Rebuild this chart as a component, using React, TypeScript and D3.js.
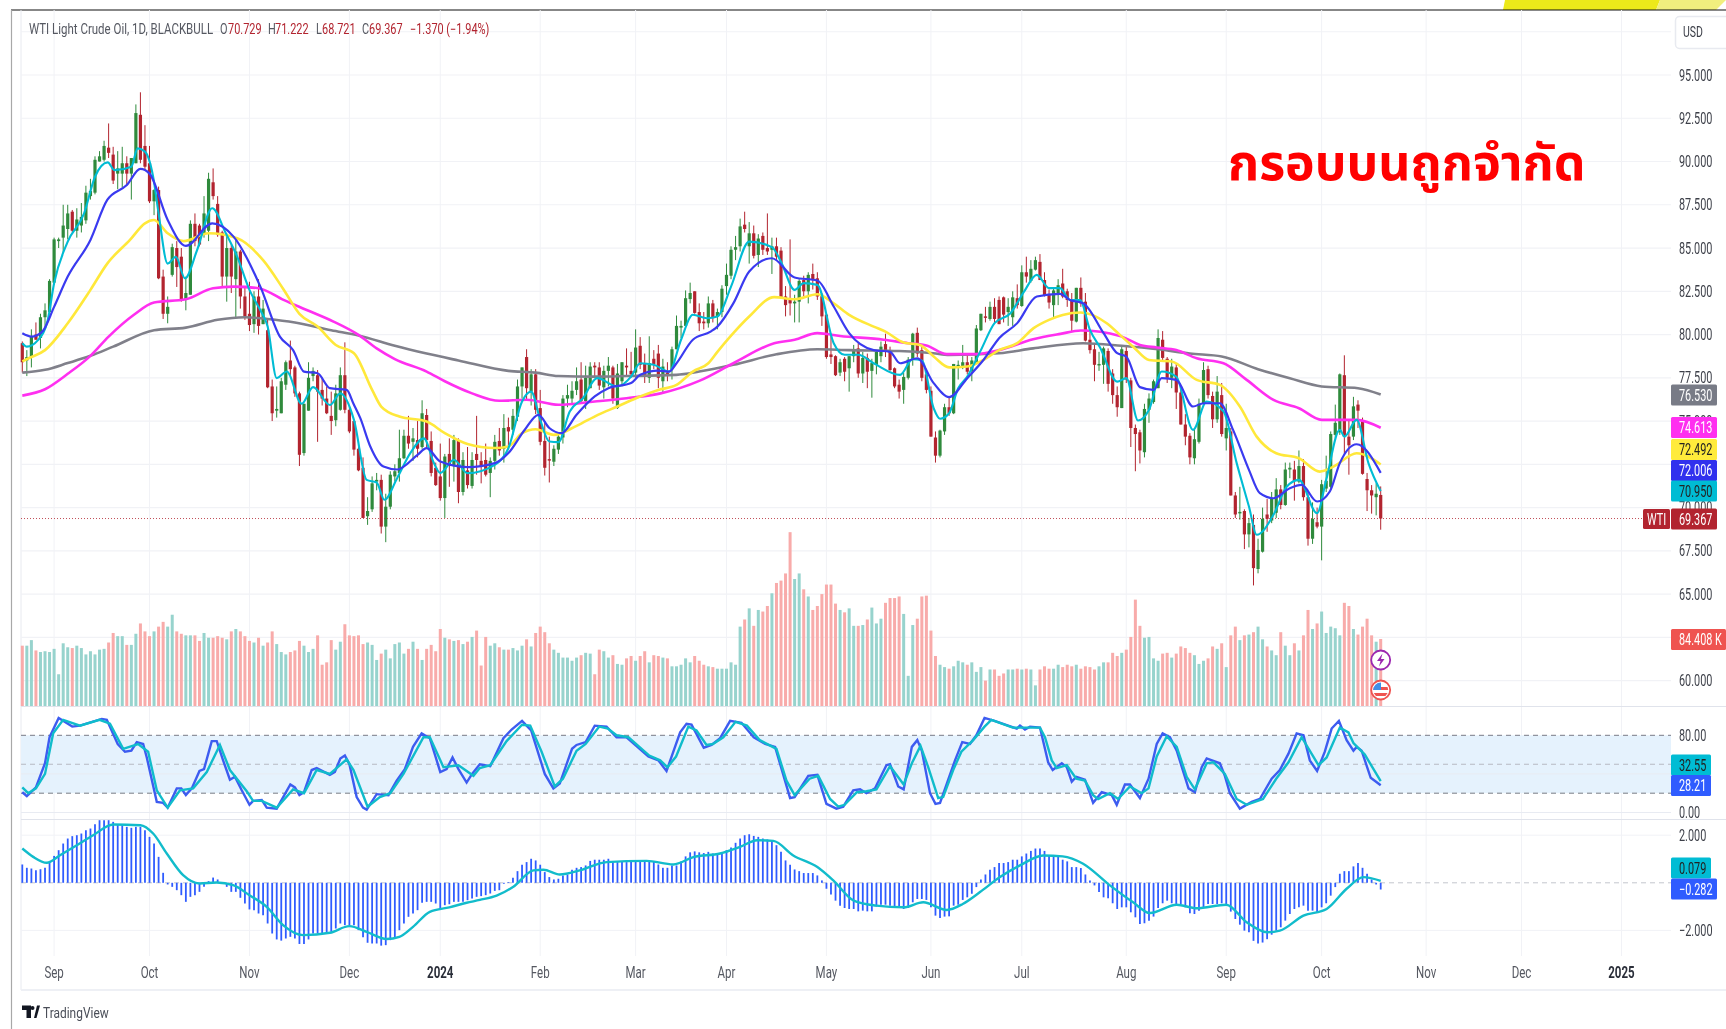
import React from "react";
import * as d3 from "d3";

const opens = [79.5,78.5,78.7,80,79.8,81,81.3,83,85.4,85.6,86.1,87.1,86,86.3,86.6,88,88.2,90,90.1,90.8,
90.4,89.3,89.3,89.9,89.3,89.9,92.7,90.9,89.9,87.7,88.35,83.35,81.2,83.45,85,84.5,82,82.3,86.4,86.3,
85.85,86,88.8,87.55,85.9,83.35,85,83.2,84.8,82.2,81.2,80.6,82.2,80.6,80.25,77,75.6,75.45,77.1,78.5,
78.1,76.6,73.15,75.6,77.6,77.65,76.8,76.3,75.3,75.05,75.65,77.65,75.65,75,73.4,72.3,69.5,69.9,71.5,71.6,
68.9,70.05,71.8,72,72.85,74.15,73.8,73.9,73.5,75.35,73.85,72.3,71.8,70.55,73.1,72.4,73.9,70.9,72.15,71.25,
73.1,72.7,72.75,72,72.7,73.85,73.4,74.65,74.5,75.25,77,78.7,76.7,77.7,75.75,73.85,72.8,72.65,73.35,74.05,
76.3,76.3,76.8,77.4,76.15,76.9,78.2,78.1,76.95,77.9,78.1,75.75,77.3,78.2,77.9,77.8,79.35,78.35,77.5,78.6,
78.9,77.3,77.8,78,79.15,80.4,80.5,82.05,82.5,81.3,80.75,80.65,81.8,81.05,81.3,82.8,83.4,84.9,85.1,86.35,
85.1,85.85,84.6,85.7,85,84.9,85.1,84.85,82.2,82,81.8,81.9,83.15,82.5,83.5,83.25,82.3,81.15,78.85,78.75,
77.8,78.6,78.05,78.75,79.2,77.75,78.65,77.9,78.25,78.75,79.45,79.1,78.05,77.1,76.8,77.5,78.55,80.1,79.1,77.7,
76.75,74.05,73,74.4,75.8,75.45,78.2,78.15,78.4,77.9,78.35,80.25,81.05,80.9,81.6,82,82.15,81.3,81,82.1,
81.65,83.6,83.1,83.75,84.2,83.15,82.3,81.7,82.3,82.95,82.5,82,80.75,82.7,81.9,79.7,79.15,78.25,78.25,79.05,
77.75,76.5,75.75,79.05,77.35,74.6,74.35,73.2,75.65,76.1,76.9,79.7,78.6,77.5,78.1,76.65,74.8,74.15,72.85,73.8,
76,78,76.45,75.1,76.5,74,74.4,70.7,69.7,69.8,68.45,69,66.45,67.45,69.6,69.25,69.7,71.05,70.15,72.2,
72.2,71.5,72.4,70.6,68.2,69.15,68.9,71.1,71.2,74.2,74.35,77.65,74.1,74.1,75.95,75,71.65,71,70.6,70.729];

const highs = [79.6,79.1,80.3,80.7,81.2,81.8,83.2,85.6,85.6,87.5,87.5,87.2,87.3,87.6,88.6,89,90.3,90.6,91.2,92.2,
90.85,90.6,90.85,90.3,90.2,93.3,94,92.1,90.9,88.4,88.55,83.75,82.2,85.25,85.4,85,83.35,86.6,87,86.4,
88,89.35,89.6,88,86,85.85,85.25,85.55,84.9,82.75,83.05,82.5,83.2,82,80.95,77.4,77,77.5,78.5,79.65,
78.2,76.7,76,78.4,78.1,77.95,77.5,77,76.7,77.1,78.1,79.55,75.9,75,73.7,72.9,70.6,71.8,72,71.9,
70.8,72.1,72.5,74.5,74.5,75.3,74.6,75,76.2,75.7,74.4,72.6,73.7,73.1,74,74.2,74,73.2,73.5,73.2,
75.3,73.2,73.7,72.9,74.2,74.6,75.4,75.2,75.7,77.4,78.1,79.15,78,78,76.8,75,74.1,73.6,74.3,76.5,
77.1,77.3,78.1,78.4,78.2,78.4,78.4,78.4,78.2,78.7,78.2,78.3,78.4,79.2,79,80.3,79.85,78.9,79.9,79.1,
79.4,78.6,78.4,79.3,81.1,80.8,82.55,83,82.5,81.8,81.3,82.2,82,81.5,82.85,84.1,85.1,85.7,86.7,87.1,
86.5,86.3,85.8,85.9,87,85.6,85.6,85.05,82.8,85.5,82.3,83.2,83.4,83.6,84.1,83.6,82.4,81.2,80,78.8,
78.6,78.7,78.75,79.4,79.5,79,78.9,78.6,79.1,79.6,80.05,79.3,78.1,77.4,77.8,78.7,80.1,80.4,79.3,77.8,
77,74.4,74.5,76,76.4,78.3,78.5,79.4,78.9,78.7,80.55,81.2,81.6,81.9,82.1,82.2,82.2,82.1,82.5,82.9,
84,84.5,84.3,84.5,84.65,83.6,82.6,82.7,83.2,83.8,82.65,82.4,82.7,83.3,82.4,80.2,79.4,79,79.3,79.2,
78,77,79.3,79.3,77.5,74.8,74.5,76,76.6,77.4,80.3,80.2,78.7,78.6,78.3,76.9,75.4,74.3,74.5,76.3,
78.4,78.2,76.7,77.6,77.2,76,74.6,70.9,71.2,69.9,69.4,69.6,68.2,70,70.5,70.9,71.7,71.3,72.6,72.6,
72.7,73.3,72.8,70.9,70.3,70,71.6,73,74.4,75.95,77.75,78.8,75.1,76.4,76.2,75.2,72,71.3,71.4,71.222];

const lows = [77.8,77.6,78.1,79.7,79.2,80.3,81.3,82.9,85,84.7,85.5,85.9,85.6,85.9,86.4,87.8,88.1,90,90,90.2,
88.7,88.4,88.5,88.6,87.8,89.9,89.9,89.5,87.6,86.9,83.2,80.9,80.65,83.35,82.75,81.9,81.4,82.3,85.1,85.1,
85.6,85.4,87.8,85.65,82.75,81.9,82.4,81,81.5,80.85,80.2,80.1,80,80.6,76.9,75,75.2,75.45,76.8,77.6,
76.4,72.4,73,75.6,77.3,73.8,75.9,75.4,74.2,74.7,75.6,75.45,74.3,73,72.1,69.4,69,69.75,71,68.5,
68,69.9,71.5,71.5,72.8,73.4,72.7,72.9,73.4,73.4,71.8,71.25,70.4,69.4,71.2,71.5,70.25,70.7,71.1,71.1,
71.9,71.4,71.8,70.6,72.2,73,72.6,73.4,74.2,75,76.3,76.2,75.9,75.4,73.6,71.85,71.45,72.4,73.1,73.7,
75.8,76,76.5,76,75.7,76.9,77.5,76.8,76.3,77,76,75.7,77,77.6,77.5,77.5,78,77.2,77.2,78,
76.9,76.6,77.3,77.4,79.15,79.8,80.5,81.8,81.2,80.2,80.3,80.4,80.7,80.3,81,82.3,83.2,84.3,84.8,85.9,
84.1,84.4,83.9,84.6,84.6,83.5,84.3,82.1,81.05,81.1,80.7,80.7,82.2,81.8,82.6,82,80.5,78.6,78.3,77.6,
77.6,77.3,76.7,78.4,77.5,77.2,76.9,76.35,77.7,78.4,78.7,77.9,76.9,76.3,76,77.4,78.2,78.7,77.3,76.6,
74.1,72.6,72.9,74.2,75.3,75.4,77.4,78,77.7,77.3,78.3,80.2,80.7,80.8,80.7,80.6,80.7,80.5,80.5,81.5,
81.6,83,83,83.7,83.2,82.2,81.5,80.9,81.7,82.1,81.6,80.2,80.7,81.6,79.6,78.9,77.3,77.9,77.15,76.7,
76,75.25,75.75,77.2,73.5,72.1,72.55,72.9,74.9,76,76.9,78.5,77.2,76.9,75.7,74.8,73.6,72.5,72.5,73.7,
75.9,76.3,74.6,74.9,74.1,73.3,70.7,69.4,69.3,67.6,67.7,65.5,66.2,67.4,68.6,69.1,69.4,69.9,70.1,71.7,
70.4,71.4,70.4,67.8,67.9,68.8,66.95,70.9,71.1,74,74.2,73.1,71.9,73.9,74.6,71.9,69.8,69.65,69.55,68.721];

const closes = [78.4,78.7,79.9,79.7,81,81.4,83.1,85.5,85.5,86.3,87,86,86.65,86.8,88.2,88.3,90.1,90.3,90.9,90.5,
88.9,89.6,89.9,89.3,90.2,92.8,90.1,89.7,87.7,88.35,83.25,81.2,81.6,85.05,83.9,82,82.4,86.4,85.4,85.2,
87,89,88,85.75,83.35,85,83.35,84.8,82.2,81.05,80.55,82.2,80.5,81.5,76.95,75.45,75.7,77.3,78.4,78,
76.6,73.05,76,77.5,77.9,76.7,76.3,75.45,75,76.6,77.65,75.65,74.4,73.35,72.15,69.4,69.8,71.4,71.6,68.9,
70.05,71.9,72.1,72.85,74.15,73.7,74,73.4,75.45,73.9,72,71.3,70.55,72.95,72.4,73.9,70.9,72.75,71.3,72.75,
72.75,72.4,71.9,72.7,73.8,73.3,74.6,74.4,75.3,77,78.1,76.9,77.7,75.65,73.8,72.3,72.75,73.4,74.1,76.3,
76.5,76.75,77.3,76.15,77.5,78.15,78.1,77.05,77.9,78.2,76.3,77.75,78.4,78.1,77.7,79.25,78.25,77.6,78.35,78.3,
77.5,78.15,77.7,79.15,80.5,80.5,82.1,82.4,81.25,80.65,80.65,81.8,80.95,81.3,82.65,83.45,84.9,85.05,86.25,86.1,
85.85,84.55,85.55,84.9,84.8,85.1,84.5,82.15,81.7,81.8,81.9,83.1,82.5,83.45,83.15,82.2,81.05,78.7,78.7,77.65,
78.4,77.85,78.75,79.1,77.75,78.65,77.85,78.35,79,79.3,79.1,77.95,77,76.7,77.55,78.55,80.05,78.9,77.5,76.8,
74.1,73,74.45,75.8,75.45,78.3,78.25,78.4,77.85,78.5,80.35,81.2,81,81.6,80.9,80.6,81.15,81.6,82.15,81.7,
83.6,83.35,83.8,84.3,83.15,82.25,81.85,82.55,82.85,82.2,82,80.8,82.7,81.8,79.65,79.1,78.25,78.3,79.2,77.15,
76.5,75.8,79.15,77.4,74.6,74.25,73.3,75.7,76.3,77.3,79.8,78.65,77.5,78.15,76.65,74.8,74.1,72.9,73.95,76,
77.95,76.5,75.1,76.7,74.25,74.6,70.7,69.6,69.75,68.45,69.1,66.5,67.55,69.35,69.35,70.55,71.05,70.15,72.2,72.3,
71.55,72.4,70.6,68.2,69.35,68.9,71.35,71.55,74.25,74.9,77.7,74.1,73.6,75.85,75.6,71.95,71,70.7,70.8,69.367];

const volumeK = [76,76,83,70,68,69,68,72,40,79,74,73,76,73,65,69,65,71,72,80,
92,88,88,77,77,91,104,94,88,94,100,106,100,115,94,91,89,89,89,82,
92,86,86,88,86,84,94,97,94,88,82,80,86,76,80,94,78,68,65,68,
70,82,76,68,72,89,52,55,83,71,81,103,89,88,89,78,80,77,58,66,
71,60,78,80,66,72,81,72,58,72,77,69,97,86,84,82,83,78,81,87,
95,51,87,76,79,74,71,71,73,70,76,84,75,92,100,93,79,71,67,61,
61,57,61,64,67,66,40,71,69,61,64,53,52,60,63,57,63,69,55,64,
63,61,60,50,50,52,60,55,63,57,52,50,49,47,47,47,55,52,100,109,
123,101,121,119,126,142,155,158,167,219,160,167,147,138,121,126,141,153,153,129,
121,118,123,101,101,102,109,124,104,110,130,136,136,138,116,38,102,110,138,139,
95,63,52,49,47,50,57,55,52,55,43,49,32,46,46,38,41,46,46,47,
46,47,46,26,46,50,47,47,52,49,52,50,52,47,50,49,46,50,55,55,
67,63,67,71,87,134,101,86,87,60,57,66,67,61,66,75,73,67,64,53,
57,60,75,72,79,49,89,100,83,89,90,93,100,84,75,70,64,93,76,64,
79,70,89,121,97,104,119,92,100,98,89,130,126,97,90,100,110,89,81,84.408];

const macdHist = [.77,.63,.6,.53,.57,.63,.88,1.13,1.37,1.65,1.86,1.96,2,2.07,2.21,2.28,2.46,2.63,2.63,2.63,
2.56,2.46,2.42,2.35,2.31,2.35,2.35,2.21,1.93,1.65,1.09,.42,-.07,-.17,-.31,-.52,-.8,-.59,-.52,-.38,
-.17,.07,.22,.14,-.03,-.17,-.38,-.38,-.63,-.87,-1.12,-1.15,-1.29,-1.36,-1.71,-2.13,-2.38,-2.43,-2.34,-2.27,
-2.34,-2.57,-2.57,-2.38,-2.13,-2.13,-2.13,-2.1,-2.06,-1.92,-1.71,-1.78,-1.78,-1.78,-1.99,-2.29,-2.52,-2.55,-2.55,-2.64,
-2.62,-2.41,-2.29,-1.99,-1.71,-1.43,-1.29,-1.15,-.84,-.8,-.8,-.87,-1.08,-.94,-.9,-.8,-.8,-.8,-.73,-.66,
-.59,-.56,-.52,-.45,-.34,-.31,-.04,.03,.21,.49,.76,.87,1.01,.94,.76,.45,.24,.14,.17,.31,
.35,.55,.63,.66,.73,.92,.97,.97,.97,1.01,.87,.87,.87,.87,.9,.94,.94,.94,.92,.9,
.77,.63,.63,.73,.73,.9,1.11,1.28,1.32,1.28,1.25,1.3,1.23,1.18,1.25,1.37,1.48,1.68,1.86,2,
2.04,1.97,1.93,1.86,1.82,1.76,1.58,1.3,.94,.76,.56,.49,.41,.41,.41,.31,.1,-.25,-.49,-.75,
-.96,-1.06,-1.1,-1.1,-1.2,-1.17,-1.2,-1.2,-1,-.92,-.92,-.96,-1.03,-1.06,-1.1,-1.06,-.82,-.68,-.68,-.72,
-1.03,-1.38,-1.48,-1.42,-1.41,-.96,-.92,-.72,-.61,-.46,-.18,.14,.35,.55,.66,.83,.83,.87,.97,.97,
1.11,1.23,1.34,1.44,1.44,1.34,1.15,1.11,1.11,.97,.9,.66,.66,.62,.35,.1,-.11,-.39,-.61,-.65,
-.86,-1.1,-1.03,-1.03,-1.24,-1.45,-1.73,-1.7,-1.59,-1.42,-1.06,-.86,-.75,-.86,-.89,-.89,-1.03,-1.28,-1.31,-1.17,
-1.03,-.89,-.89,-.89,-.86,-.92,-1.21,-1.52,-1.76,-2.01,-2.08,-2.44,-2.55,-2.51,-2.37,-2.18,-2.01,-1.87,-1.59,-1.31,
-1.1,-1.03,-.96,-1.17,-1.17,-1.24,-1.03,-.86,-.54,-.18,.38,.49,.49,.69,.83,.63,.38,.14,-.07,-.282];

const ma200 = [[0,77.8],[5,77.96],[10,78.35],[15,78.77],[20,79.3],[29,80.25],[36,80.4],[43,80.85],[49,81],[54,80.9],[60,80.7],[68,80.25],[74,79.95],[82,79.35],[89,78.9],[96,78.5],[107,77.9],[113,77.8],[118,77.6],[126,77.57],[133,77.6],[144,77.67],[149,77.86],[156.5,78.25],[166,78.86],[175,79.15],[182,79.1],[193,79.05],[200.5,78.92],[204,78.82],[215,78.92],[222.5,79.2],[233.5,79.5],[242,79.35],[250,79.15],[257,78.9],[264,78.73],[272,78],[279,77.47],[286,77],[294,76.9],[299,76.53]];
const ma100 = [[0,76.47],[5,76.84],[10,77.73],[15,78.77],[19,79.88],[24.5,81.13],[29,81.85],[36,82.04],[42,82.68],[46.5,82.77],[52,82.68],[57.5,82],[62.6,81.42],[68.5,80.75],[74,79.98],[78,79.2],[82,78.58],[89,77.86],[93,77.3],[99,76.6],[105,76.17],[111,76.23],[118,75.94],[126,76.13],[133,76.32],[140.5,76.6],[149,77.32],[156.5,78.34],[165.5,79.5],[170,79.7],[175,80.08],[180,79.92],[189.6,79.7],[195,79.5],[199,79.37],[203.5,78.87],[210,78.87],[215,79.1],[222.5,79.73],[228.5,80.04],[233,80.23],[241.6,79.92],[246,79.4],[249.7,79.25],[254,79.1],[258.5,78.63],[264.4,78.34],[269.5,77.38],[275.4,76.22],[281,75.74],[286,75.07],[293.7,75.07],[299,74.613]];
const ma50 = [[0,78.45],[1.4,78.63],[5,79.1],[10,80.65],[15,82.58],[18.7,84.1],[23.7,85.47],[27,86.43],[29,86.62],[32,85.85],[35.5,85.4],[41,85.85],[47.3,85.56],[53,84.3],[57.4,82.65],[61,81.2],[65,80.46],[69,79.4],[73,78.92],[77,76.8],[79,75.84],[83,75.26],[89,74.97],[93,74.3],[98,73.67],[104,73.44],[107,73.53],[110,74.3],[113,74.53],[117,74.2],[122,74.72],[126.7,75.36],[131,75.84],[136,76.42],[140,76.8],[144,77.09],[147.6,77.86],[151,78.34],[153,79],[156.5,80.08],[160,81.04],[165.5,82.16],[170,82.04],[175,82.33],[178.6,81.8],[182,81.14],[187.4,80.46],[190,80.17],[194,79.54],[197.6,79.4],[200.6,78.73],[204,78.1],[208,78.15],[211.6,78.54],[215,79.1],[219,79.5],[222.6,80.37],[226,80.85],[229,81.13],[233,81.27],[238.7,80.65],[241.6,79.98],[244.5,79.3],[248,78.53],[253,78.44],[258.5,77.38],[263.6,77.09],[268,75.84],[271.7,74.1],[276,73.14],[281,72.85],[285.6,72.08],[288.6,72.37],[293.7,73.14],[299,72.492]];
const ma20 = [[0,80.07],[2,79.88],[4.4,80.17],[7,81.6],[10,83.35],[15,85.47],[18.7,87.78],[23,88.64],[26,89.57],[28,89.3],[32,86.62],[36,85.12],[41.8,86.43],[46.5,85.66],[52.4,82.77],[56.7,79.88],[59.6,79.1],[62,77.86],[65,77.76],[67.7,76.9],[71.4,76.8],[72.9,76],[74.4,75.17],[76.6,73.53],[79.5,72.37],[82.5,72.2],[87,73.05],[89,73.43],[92,72.66],[98,72.34],[104,72.57],[107,73.15],[110.6,74.5],[113.6,75.36],[116,74.6],[118.7,74.3],[122,75.36],[126,76.42],[129,76.9],[134,77.2],[136,77.67],[140,77.92],[142.4,77.86],[144,78.34],[147.6,79.7],[151.5,80.17],[153,80.46],[156.5,81.8],[160,83.64],[165,84.41],[170,83.3],[175,83.12],[178.6,81.62],[182,80.08],[187.4,79.1],[191,79],[193.2,78.34],[197,78.63],[200.6,77.19],[204,76.38],[208,77.48],[211.6,78.54],[215,79.79],[219,80.66],[223.3,82.2],[228.4,82.35],[230.6,82],[233.5,81.81],[238,80.08],[241,78.92],[243,78.73],[246,76.96],[249,76.8],[250.8,77.48],[254,77.38],[257.7,75.84],[260,76.03],[263.6,76.03],[266.5,74.49],[270,72.18],[272.4,70.83],[275.4,70.54],[279,71.12],[281.6,71.31],[285,70.35],[287.8,70.93],[290,72.57],[293.7,73.66],[299,72.006]];
const ma9 = [[0,79.5],[1,79.3],[3.5,79.69],[5.6,80.84],[7,82.96],[10,85.37],[13.6,87],[16,89.12],[18.8,89.95],[20.3,89.5],[24,89.7],[25.4,90.76],[27,90.57],[28.8,89.12],[30,87],[32,84.1],[33.8,84.5],[35.8,83.25],[38.5,84.9],[41.8,87.3],[44.8,85.85],[47.3,84.5],[50,82.58],[52.4,81.4],[54,80.46],[56,77.48],[58.2,77.86],[61.5,76],[64,76.96],[67.7,75.93],[70,76.6],[73,75.07],[75.8,71.6],[78,71.45],[79.7,70.45],[82.5,71.7],[85.4,73.15],[88.4,74],[90.6,72.57],[92,72],[95,72.76],[98,71.99],[104,72.47],[107,73.43],[110,76.13],[112,76.7],[114,75.07],[116,73.82],[118,73.78],[120.5,75.55],[123.4,76.32],[126.5,77.48],[131,77],[134,77.57],[136,78.34],[139,78.25],[142.4,77.86],[145,79.7],[147.6,81.14],[150.7,80.94],[153,81.04],[156,82.77],[160,85.37],[165,85.05],[167,84.2],[170,82.58],[172,82.97],[175,82.87],[178.6,79.5],[181,78.83],[184,78.83],[187.4,78.34],[193.2,77.67],[196,78.58],[198,78.5],[200.6,75.74],[202,75.13],[204,75.45],[206,76.9],[208,77.57],[211,79.1],[214,80.66],[217.5,81.23],[220.5,82.48],[223.3,83.45],[226,82.68],[228.4,82.68],[230.6,82],[232.8,82],[235,80.27],[237.2,79.27],[241,77.28],[243,77.48],[245.6,75.03],[248,75.65],[250.8,77.86],[254,77.57],[257.7,74.49],[260.7,76.13],[264.4,75.55],[267.3,72.57],[270,70.06],[271.7,68.43],[275.4,69.58],[278.3,71.2],[281,71.6],[285,69.67],[287,71.6],[290,74.5],[291,74.1],[293.7,75.07],[296.3,72.57],[299,70.95]];

const stochK = [[0,21],[1,17],[3,26],[5,51],[6,78],[8,98],[11,89],[12.7,90],[17.5,97],[18.6,96],[21,71],[22.6,63],[24,64],[25.2,73],[26.6,71],[27.4,57],[29.6,11],[31,10],[32,5],[34,25],[35,25],[36,18],[37.3,25],[39,43],[40,45],[41.7,74],[42.8,74],[44.2,54],[45.7,34],[46.8,37],[48.3,23],[50,8],[50.8,12],[52.7,13],[53.8,5],[56,4],[59,29],[60,26],[61,18],[62,21],[63.7,44],[64.8,46],[67.7,39],[68.8,42],[70,56],[71,59],[72,50],[73.6,16],[75,5],[75.8,3],[78,19],[80.6,18],[82.4,33],[84.2,45],[86,68],[87.9,82],[89.7,77],[92,42],[93.4,45],[94.7,57],[96,45],[97.8,31],[99,40],[100.7,50],[103,48],[105.9,77],[107.7,86],[110,95],[112,85],[115,40],[116.9,25],[118.3,30],[121,66],[122,70],[124,73],[126,90],[128.6,89],[130.8,78],[133,78],[137.8,58],[140,54],[141.8,43],[144.8,83],[146.2,92],[147.3,91],[150,67],[151.7,70],[153.6,77],[155.8,95],[158.3,93],[161,78],[163.5,71],[165.7,68],[169,15],[170,16],[173,38],[175,39],[177,9],[179.2,4],[180.7,6],[182.9,23],[184.4,24],[185.8,20],[187.7,25],[190.2,49],[191,50],[192.8,27],[194,24],[195.8,68],[197,75],[198,64],[199.8,20],[201,9],[202,10],[203.5,30],[205.3,54],[206.9,73],[208.6,71],[210,80],[211.8,98],[214,95],[218.9,87],[219.6,90],[220.7,86],[221.8,89],[224,88],[225.8,52],[226.8,44],[228.8,51],[229.9,47],[231,32],[232,37],[233.9,34],[235.7,10],[237.6,21],[239.8,18],[240.9,8],[242.7,29],[243.8,29],[246,15],[247.9,35],[249.7,71],[251,82],[252.6,78],[254.1,64],[256.7,25],[258.1,21],[259.6,47],[260.7,56],[263.6,51],[264.7,38],[265.8,20],[268,4],[270.6,11],[272.4,14],[275,35],[276.8,44],[278.7,61],[280.5,82],[282,80],[283.4,54],[285,43],[286.7,63],[288.2,87],[289.8,95],[291.5,75],[293,64],[293.7,68],[294.8,64],[296.8,36],[299,28.21]];
const stochD = [[0,26],[1.3,20],[3,25],[5,40],[6.8,82],[9,96],[12.7,90],[17,96],[19.3,92],[22.2,66],[25.5,71],[27.7,63],[29.6,23],[32,5],[34.7,23],[37.6,25],[40.6,42],[43.5,70],[45.7,44],[49.4,22],[50.8,12],[52.7,12],[56,5],[59.6,24],[62,20],[64.8,44],[67.7,40],[71.4,55],[72.9,44],[76,6],[78.7,16],[81,20],[83.9,40],[88.3,78],[89.7,78],[92.7,47],[96,49],[99.3,38],[100.7,46],[103,49],[106.6,74],[110,91],[111.8,90],[114.3,63],[117.2,27],[119,35],[122,64],[124,71],[127,89],[128.9,87],[130.8,80],[133.4,78],[138,59],[140.4,54],[142,47],[143.9,58],[146.6,89],[148.4,85],[150.6,70],[152,71],[154.3,78],[157,94],[159.5,90],[162.3,75],[166,66],[168.2,33],[170,18],[173.3,35],[175.2,38],[177.8,14],[179.6,6],[181,8],[183.7,21],[185.8,22],[188,24],[191,48],[194,29],[195.8,51],[197.7,69],[199.4,47],[201.6,15],[202.7,16],[204.9,44],[206.7,63],[209.3,75],[211.8,89],[213.3,96],[218,88],[224,88],[225.1,78],[226.6,54],[227.7,46],[229.9,49],[232,35],[233.9,33],[235.7,18],[236.8,14],[239.4,20],[241.2,14],[243.8,27],[246.4,20],[247.9,25],[249.7,58],[251.9,79],[254.1,68],[256.3,37],[258.1,24],[260.7,51],[262.2,52],[264.7,40],[267.3,14],[269.5,8],[273.1,14],[276,35],[278.7,52],[281.6,78],[285.3,49],[287.1,57],[290,88],[291.9,83],[293,72],[295.5,60],[299,32.55]];
const macdSignal = [[0,1.44],[2.4,1.09],[5.4,.84],[8.3,1.16],[12,1.58],[15.6,2],[20,2.45],[26,2.42],[28.8,2.07],[31.8,1.23],[35.4,.32],[39,-.03],[42.8,.01],[46.4,-.1],[50,-.52],[53.8,-1.01],[57.4,-1.78],[61.8,-2.2],[67.7,-2.1],[72,-1.82],[75.8,-2.06],[80.2,-2.36],[83,-2.27],[86,-1.85],[89.7,-1.22],[94,-1.03],[97.8,-.84],[100.7,-.72],[104.4,-.54],[108,-.18],[112.5,.52],[114.7,.55],[118.3,.35],[122.7,.52],[128.6,.87],[137.4,.92],[143.3,.77],[147.7,1.08],[153.6,1.23],[158,1.51],[161.8,1.79],[165.3,1.76],[169.7,1.15],[175,.66],[178.5,.1],[183,-.75],[188,-.96],[194,-1.03],[198.3,-.82],[203.5,-1.14],[207,-.89],[210.8,-.39],[215.2,.24],[219.6,.73],[224.7,1.15],[229,1.11],[233.5,.8],[239.4,-.11],[244.5,-.82],[248.2,-1.27],[254.1,-.92],[258.5,-1.07],[265,-.92],[269.5,-1.66],[274,-2.08],[276.8,-2.01],[282,-1.38],[287.1,-1.1],[291.5,-.25],[295.2,.24],[299,.079]];

const timeTicks = [[7,"Sep"],[28,"Oct"],[50,"Nov"],[72,"Dec"],[92,"2024"],[114,"Feb"],[135,"Mar"],[155,"Apr"],[177,"May"],[200,"Jun"],[220,"Jul"],[243,"Aug"],[265,"Sep"],[286,"Oct"],[309,"Nov"],[330,"Dec"],[352,"2025"]] as [number,string][];
const priceGrid = [60,62.5,65,67.5,70,72.5,75,77.5,80,82.5,85,87.5,90,92.5,95,97.5];
const priceTickLabels = [60,65,67.5,70,75,77.5,80,82.5,85,87.5,90,92.5,95];
const legendTitle = "WTI Light Crude Oil, 1D, BLACKBULL";
const annotation = "กรอบบนถูกจำกัด";

const W = 1726, H = 1029, L = 21, R = 1671;
const FONT = "Roboto,'Noto Sans',sans-serif";
const UP = "#2f8a3c", DOWN = "#b2242f";
const AXIS = "#3c3f48", MUTED = "#555861";

const x = d3.scaleLinear().domain([0, 299]).range([22.3, 1380.7]);
const yP = d3.scaleLinear().domain([60, 95]).range([680.6, 75]);
const yV = d3.scaleLinear().domain([0, 84.408]).range([706, 639]);
const yS = d3.scaleLinear().domain([0, 100]).range([812.5, 716]);
const yM = d3.scaleLinear().domain([-2, 2]).range([930.4, 835.2]);

const lineOn = (ys: any, curve: any) => d3.line<number[]>().x(d => x(d[0])).y(d => ys(d[1])).curve(curve);

// The reference's labels are set in a condensed face; Roboto is squeezed horizontally to match.
function T({ x: tx, y, size = 16, sx = 0.68, fill = AXIS, anchor = "start", weight = 400, children }: any) {
  return (
    <text transform={`translate(${tx} ${y}) scale(${sx} 1)`} fontSize={size} fill={fill}
      textAnchor={anchor} fontWeight={weight} fontFamily={FONT}>{children}</text>
  );
}

function Tag({ y, h = 21, x0 = 1671, w = 46, fill, color = "#fff", text }: any) {
  return (
    <g>
      <rect x={x0} y={y - h / 2} width={w} height={h} rx={1.5} fill={fill} />
      <T x={x0 + 8} y={y + 5.6} fill={color}>{text}</T>
    </g>
  );
}

export default function App() {
  const priceLine = lineOn(yP, d3.curveMonotoneX);
  const n = closes.length;
  return (
    <svg width={W} height={H} viewBox={`0 0 ${W} ${H}`} style={{ position: "absolute", left: 0, top: 0, display: "block", background: "#fff", filter: "blur(0.45px)" }}>
      <path d="M1505 0L1503 10H1656L1660 0Z" fill="#ece91a" />
      <path d="M1656 10L1660 0H1726L1716 10Z" fill="#f1ef7e" />
      <line x1={11} x2={W} y1={10} y2={10} stroke="#111" strokeWidth={1.2} />
      <line x1={11.5} x2={11.5} y1={10} y2={H} stroke="#a8a8a8" strokeWidth={1.2} />
      <line x1={21} x2={21} y1={10} y2={990} stroke="#e8eaf0" strokeWidth={1} />
      <line x1={21} x2={W} y1={990} y2={990} stroke="#eef0f5" strokeWidth={2} />

      {timeTicks.map(([i]) => <line key={i} x1={x(i)} x2={x(i)} y1={10} y2={956} stroke="#f1f2f6" strokeWidth={1} />)}
      {priceGrid.map(v => <line key={v} x1={L} x2={R} y1={yP(v)} y2={yP(v)} stroke="#f1f2f6" strokeWidth={1.2} />)}

      <rect x={L} y={yS(80)} width={R - L} height={yS(20) - yS(80)} fill="#e5f2fd" />
      {[40, 0].map(v => <line key={v} x1={L} x2={R} y1={yS(v)} y2={yS(v)} stroke="#e8ebf2" strokeWidth={1} />)}
      {[2, -2].map(v => <line key={v} x1={L} x2={R} y1={yM(v)} y2={yM(v)} stroke="#f1f2f6" strokeWidth={1} />)}

      <line x1={L} x2={W} y1={706.5} y2={706.5} stroke="#e0e3eb" strokeWidth={1} />
      <line x1={L} x2={W} y1={819.5} y2={819.5} stroke="#e0e3eb" strokeWidth={1} />

      {volumeK.map((v, i) => (
        <rect key={i} x={x(i) - 1.5} y={yV(v)} width={3} height={yV(0) - yV(v)}
          fill={closes[i] >= opens[i] ? "#97d3cd" : "#f8abaa"} />
      ))}

      {d3.range(n).map(i => {
        const up = closes[i] >= opens[i];
        const c = up ? UP : DOWN;
        const top = yP(Math.max(opens[i], closes[i]));
        const bot = yP(Math.min(opens[i], closes[i]));
        return (
          <g key={i}>
            <line x1={x(i)} x2={x(i)} y1={yP(highs[i])} y2={yP(lows[i])} stroke={c} strokeWidth={1} />
            <rect x={x(i) - 1.6} y={top} width={3.2} height={Math.max(bot - top, 1.5)} fill={c} />
          </g>
        );
      })}

      <path d={priceLine(ma200 as any)!} fill="none" stroke="#80808a" strokeWidth={2.6} />
      <path d={priceLine(ma100 as any)!} fill="none" stroke="#ff2ff0" strokeWidth={2.6} />
      <path d={priceLine(ma50 as any)!} fill="none" stroke="#ffe83a" strokeWidth={2.6} />
      <path d={priceLine(ma9 as any)!} fill="none" stroke="#00bcd4" strokeWidth={2.1} />
      <path d={priceLine(ma20 as any)!} fill="none" stroke="#3a3af0" strokeWidth={2.2} />

      <line x1={L} x2={1643} y1={yP(closes[n - 1])} y2={yP(closes[n - 1])} stroke={DOWN} strokeWidth={1} strokeDasharray="1 2" opacity={0.8} />

      {[80, 20].map(v => <line key={v} x1={L} x2={R} y1={yS(v)} y2={yS(v)} stroke="#787b86" strokeWidth={1} strokeDasharray="5 4" />)}
      <line x1={L} x2={R} y1={yS(50)} y2={yS(50)} stroke="#b6b9c2" strokeWidth={1} strokeDasharray="5 4" />
      <path d={lineOn(yS, d3.curveLinear)(stochK as any)!} fill="none" stroke="#3d5cf0" strokeWidth={2.4} />
      <path d={lineOn(yS, d3.curveLinear)(stochD as any)!} fill="none" stroke="#10bccb" strokeWidth={2.4} />

      <line x1={L} x2={R} y1={yM(0)} y2={yM(0)} stroke="#c4c6ce" strokeWidth={1} strokeDasharray="5 4" />
      {macdHist.map((v, i) => (
        <line key={i} x1={x(i)} x2={x(i)} y1={yM(0)} y2={yM(v)} stroke="#2f5cff" strokeWidth={1.8} />
      ))}
      <path d={lineOn(yM, d3.curveMonotoneX)(macdSignal as any)!} fill="none" stroke="#12bccb" strokeWidth={2.4} />

      {timeTicks.map(([i, t]) => (
        <T key={i} x={x(i)} y={978} anchor="middle" fill={/^\d/.test(t) ? "#2a2e39" : MUTED}
          weight={/^\d/.test(t) ? 700 : 400} sx={0.72}>{t}</T>
      ))}

      {priceTickLabels.map(v => <T key={v} x={1679} y={yP(v) + 5.6}>{v.toFixed(3)}</T>)}
      <T x={1679} y={740.6}>80.00</T>
      <T x={1679} y={817.6}>0.00</T>
      <T x={1679} y={840.6}>2.000</T>
      <T x={1679} y={936}>−2.000</T>

      <Tag y={395} fill="#787b86" text={(76.53).toFixed(3)} />
      <Tag y={427.5} fill="#ff2ff0" text={(74.613).toFixed(3)} />
      <Tag y={449.5} fill="#ffeb3b" color="#222" text={(72.492).toFixed(3)} />
      <Tag y={470.5} fill="#3131ee" text={(72.006).toFixed(3)} />
      <Tag y={491} fill="#00bcd4" color="#222" text={(70.95).toFixed(3)} />
      <rect x={1643} y={509} width={27} height={20} rx={1.5} fill={DOWN} />
      <T x={1647} y={524.6} fill="#fff">WTI</T>
      <Tag y={519} fill={DOWN} text={closes[n - 1].toFixed(3)} />
      <Tag y={639.5} w={55} fill="#ef5350" text="84.408 K" />
      <Tag y={765} w={40} fill="#00bcd4" color="#222" text="32.55" />
      <Tag y={785.5} w={40} fill="#2f5cff" text="28.21" />
      <Tag y={868} w={40} fill="#00bcd4" color="#222" text="0.079" />
      <Tag y={889} fill="#2f5cff" text="−0.282" />

      <rect x={1675.5} y={16.5} width={60} height={32} rx={4} fill="#fff" stroke="#e8eaf0" strokeWidth={1.5} />
      <T x={1683} y={37} size={15} sx={0.7}>USD</T>

      <T x={29} y={34} size={14} sx={0.82} fill={MUTED}>{legendTitle}</T>
      <T x={220} y={34} size={14} sx={0.78} fill={MUTED}>O</T>
      <T x={228} y={34} size={14} sx={0.78} fill={DOWN}>70.729</T>
      <T x={268} y={34} size={14} sx={0.78} fill={MUTED}>H</T>
      <T x={275} y={34} size={14} sx={0.78} fill={DOWN}>71.222</T>
      <T x={316} y={34} size={14} sx={0.78} fill={MUTED}>L</T>
      <T x={322} y={34} size={14} sx={0.78} fill={DOWN}>68.721</T>
      <T x={362} y={34} size={14} sx={0.78} fill={MUTED}>C</T>
      <T x={369} y={34} size={14} sx={0.78} fill={DOWN}>69.367</T>
      <T x={410} y={34} size={14} sx={0.78} fill={DOWN}>−1.370 (−1.94%)</T>

      <text x={1228} y={180} fontSize={50} fontWeight={700} fill="#ff0000"
        fontFamily="'Noto Sans Thai','Noto Sans','DejaVu Sans',sans-serif">{annotation}</text>

      <circle cx={1380.7} cy={660} r={9.5} fill="#fff" stroke="#9c27b0" strokeWidth={1.8} />
      <path d="M1382.5 653.5L1377 661H1380.5L1379 666.5L1384.5 659H1381Z" fill="#9c27b0" />
      <circle cx={1380.7} cy={690} r={9.5} fill="#fff" stroke="#ef5350" strokeWidth={1.8} />
      <clipPath id="flag"><circle cx={1380.7} cy={690} r={7.5} /></clipPath>
      <g clipPath="url(#flag)">
        <rect x={1373} y={682} width={16} height={16} fill="#fff" />
        <rect x={1373} y={687} width={16} height={3} fill="#ef5350" />
        <rect x={1373} y={693} width={16} height={3} fill="#ef5350" />
        <rect x={1373} y={682} width={8} height={8} fill="#3f8fe8" />
      </g>

      <path d="M22 1005.5H31V1018H26.5V1010H22Z" fill="#131722" />
      <circle cx={32.5} cy={1008} r={2} fill="#131722" />
      <path d="M34 1018L37 1005.5H40L36.5 1018Z" fill="#131722" />
      <T x={43} y={1017.5} size={15.5} sx={0.77} fill="#4a4e58">TradingView</T>
    </svg>
  );
}
